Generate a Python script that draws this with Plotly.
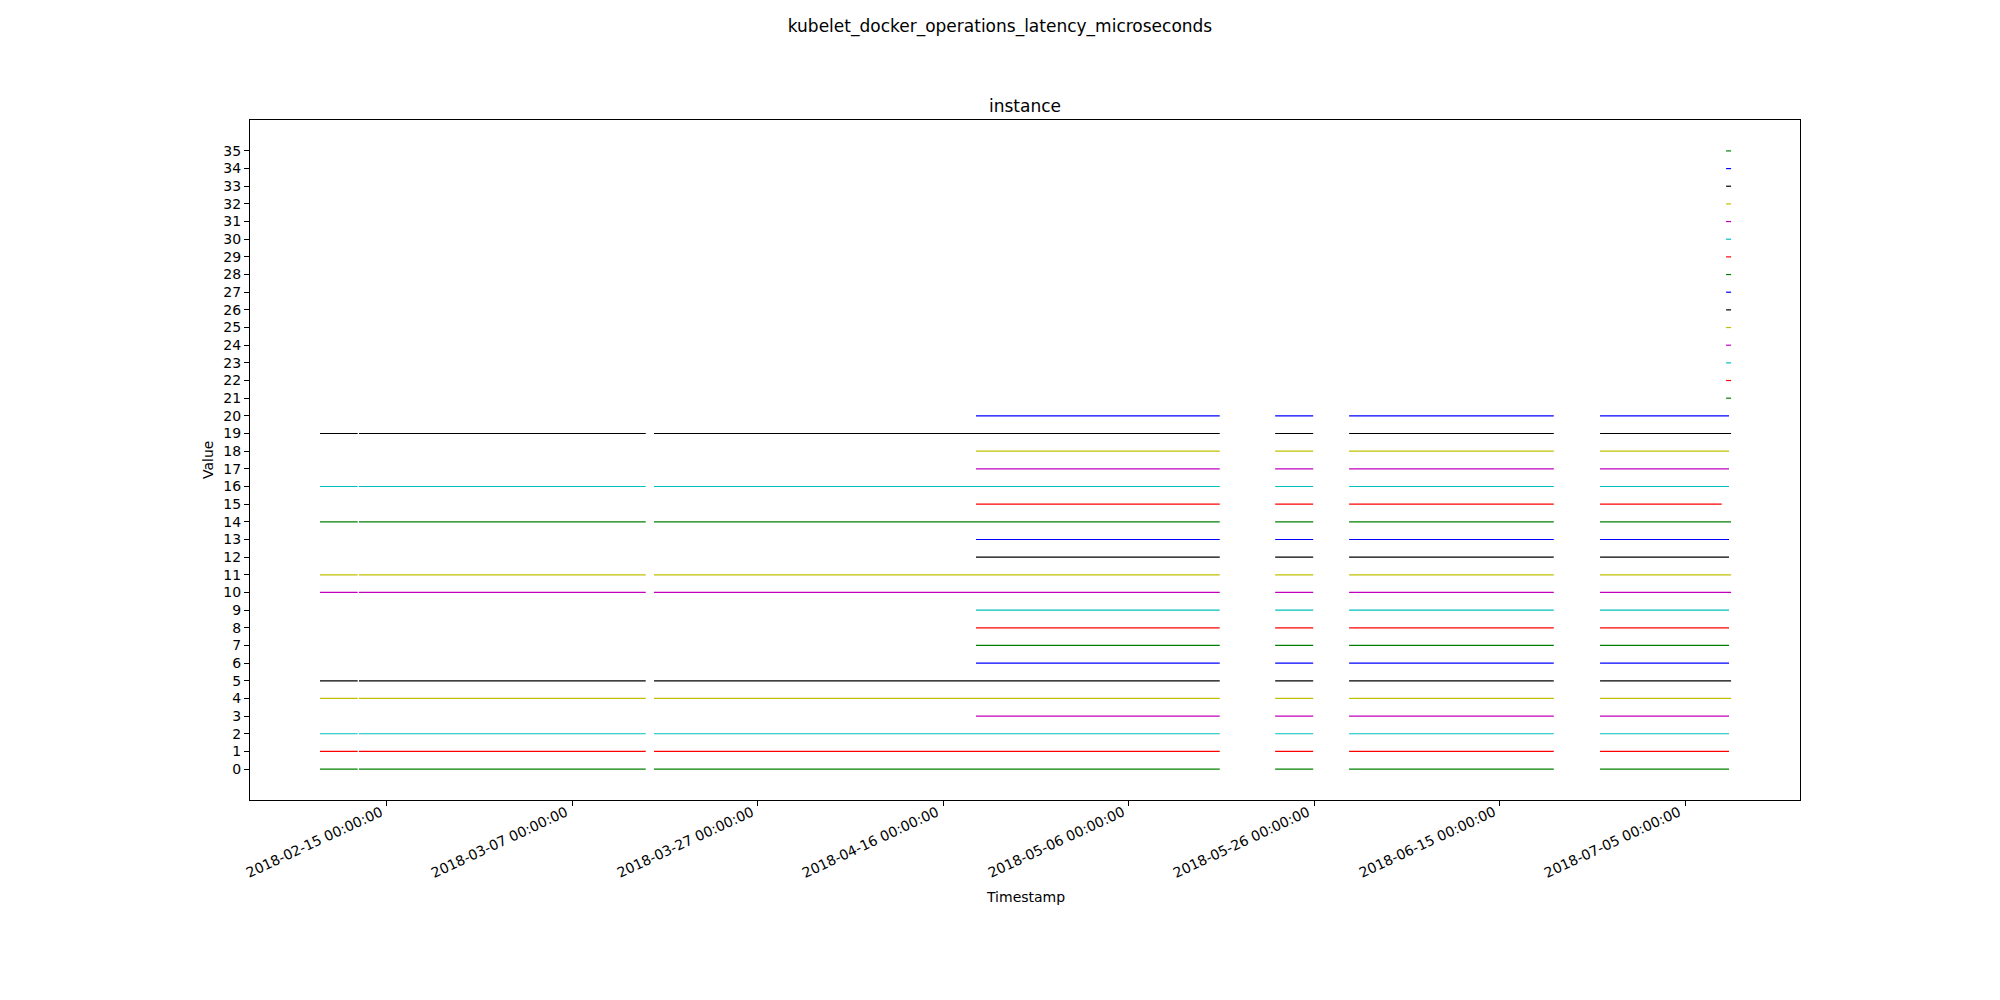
import plotly.graph_objects as go
import pandas as pd

# ---- data ----
series_values = list(range(36))
colors_cycle = ["#008000", "#FF0000", "#00BFBF", "#BF00BF", "#BFBF00", "#000000", "#0000FF"]

# series present since the beginning of the record
early_series = [0, 1, 2, 4, 5, 10, 11, 14, 16, 19]
# series whose last segment reaches the very last sample
long_end_series = [4, 5, 10, 11, 14, 19]
# series only present in the last few hours
late_series = list(range(21, 36))

early_segments = [
    ("2018-02-07 19:40", "2018-02-11 21:10"),
    ("2018-02-12 00:30", "2018-03-14 22:35"),
    ("2018-03-15 20:00", "2018-05-15 20:00"),
]
mid_start = "2018-04-19 13:10"
mid_end = "2018-05-15 20:00"
common_segments = [
    ("2018-05-21 19:25", "2018-05-25 21:50"),
    ("2018-05-29 18:45", "2018-06-20 20:25"),
]
last_start = "2018-06-25 20:10"
last_end_default = "2018-07-09 18:00"
last_end_long = "2018-07-09 23:15"
last_end_special = {15: "2018-07-08 23:00"}
late_segment = ("2018-07-09 10:20", "2018-07-09 23:15")

x_tick_vals = ["2018-02-15", "2018-03-07", "2018-03-27", "2018-04-16",
               "2018-05-06", "2018-05-26", "2018-06-15", "2018-07-05"]
x_range = ["2018-01-31 06:30", "2018-07-17 09:36"]
y_range = [-1.75, 36.75]


def segments_for(v):
    if v in late_series:
        return [late_segment]
    segs = []
    if v in early_series:
        segs.extend(early_segments)
    else:
        segs.append((mid_start, mid_end))
    segs.extend(common_segments)
    if v in last_end_special:
        end = last_end_special[v]
    elif v in long_end_series:
        end = last_end_long
    else:
        end = last_end_default
    segs.append((last_start, end))
    return segs


fig = go.Figure()
for v in series_values:
    xs, ys = [], []
    for s, e in segments_for(v):
        xs += [s, e, None]
        ys += [v, v, None]
    fig.add_trace(go.Scatter(
        x=xs, y=ys, mode="lines", connectgaps=False, showlegend=False,
        line=dict(color=colors_cycle[v % 7], width=1.2), hoverinfo="skip"))

font = "DejaVu Sans, sans-serif"
fig.update_layout(
    width=2000, height=1000,
    margin=dict(l=250, r=200, t=120, b=200),
    paper_bgcolor="white", plot_bgcolor="white",
    font=dict(family=font, size=14, color="black"),
    showlegend=False,
    title=dict(text="kubelet_docker_operations_latency_microseconds",
               x=0.5, xanchor="center", y=0.98, yanchor="top", yref="container",
               font=dict(family=font, size=17, color="black")),
)
fig.update_xaxes(
    type="date", range=x_range, tickvals=x_tick_vals, showticklabels=False,
    showgrid=False, zeroline=False, showline=True, linecolor="black", linewidth=1,
    mirror=True, ticks="outside", ticklen=5, tickwidth=1, tickcolor="black")
fig.update_yaxes(
    range=y_range, tickvals=series_values,
    showgrid=False, zeroline=False, showline=True, linecolor="black", linewidth=1,
    mirror=True, ticks="outside", ticklen=5, tickwidth=1, tickcolor="black",
    tickfont=dict(family=font, size=14, color="black"))

# rotated date tick labels (right-aligned under each tick)
for tv in x_tick_vals:
    label = pd.Timestamp(tv).strftime("%Y-%m-%d %H:%M:%S")
    fig.add_annotation(text=label, xref="x", yref="paper", x=tv, y=0,
                       xanchor="right", yanchor="top", yshift=-2, textangle=-25,
                       borderpad=0, showarrow=False,
                       font=dict(family=font, size=14, color="black"))

fig.add_annotation(text="instance", xref="paper", yref="paper", x=0.5, y=1,
                   xanchor="center", yanchor="bottom", yshift=2, showarrow=False,
                   font=dict(family=font, size=17, color="black"))
fig.add_annotation(text="Timestamp", xref="paper", yref="paper", x=0.5, y=-0.1426,
                   xanchor="center", yanchor="middle", showarrow=False,
                   font=dict(family=font, size=14, color="black"))
fig.add_annotation(text="Value", xref="paper", yref="paper", x=-0.0271, y=0.5,
                   xanchor="center", yanchor="middle", textangle=-90, showarrow=False,
                   font=dict(family=font, size=14, color="black"))

fig.write_html("out.html")
